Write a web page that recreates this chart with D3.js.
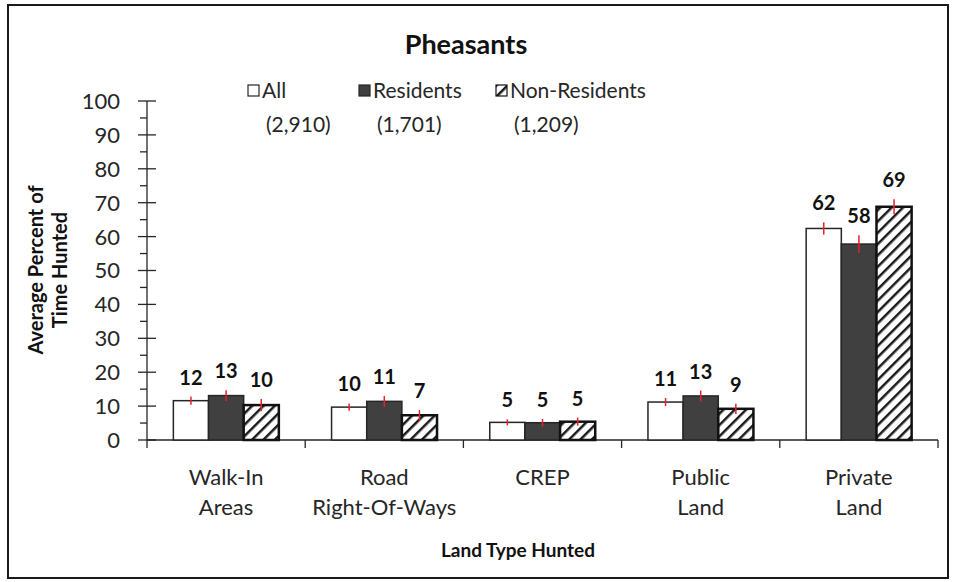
<!DOCTYPE html>
<html>
<head>
<meta charset="utf-8">
<script src="https://cdn.jsdelivr.net/npm/d3@7"></script>
<style>
  body { margin: 0; background: #fff; }
  text { font-family: Lato, "Open Sans", sans-serif; fill: #262626; }
</style>
</head>
<body>
<div id="chart"></div>
<script>
const categories = [["Walk-In", "Areas"], ["Road", "Right-Of-Ways"], ["CREP"], ["Public", "Land"], ["Private", "Land"]];
const seriesNames = ["All", "Residents", "Non-Residents"];
const seriesCounts = ["(2,910)", "(1,701)", "(1,209)"];
const allValues = [11.6, 9.7, 5.2, 11.2, 62.4];
const residentValues = [13.1, 11.4, 5.1, 13.0, 57.8];
const nonResidentValues = [10.3, 7.3, 5.4, 9.2, 68.8];
const allErr = [1.2, 1.1, 0.9, 1.2, 1.8];
const residentErr = [1.6, 1.6, 1.1, 1.6, 2.6];
const nonResidentErr = [1.8, 1.5, 1.2, 1.5, 2.2];
const yTicks = [0, 10, 20, 30, 40, 50, 60, 70, 80, 90, 100];

const W = 959, H = 582;
const svg = d3.select("#chart").append("svg").attr("width", W).attr("height", H);

// pattern for non-residents
const defs = svg.append("defs");
const pat = defs.append("pattern")
    .attr("id", "hatch")
    .attr("patternUnits", "userSpaceOnUse")
    .attr("width", 8).attr("height", 8)
    .attr("patternTransform", "rotate(45)");
pat.append("rect").attr("width", 8).attr("height", 8).attr("fill", "#fff");
pat.append("line").attr("x1", 0).attr("y1", 0).attr("x2", 0).attr("y2", 8)
    .attr("stroke", "#1a1a1a").attr("stroke-width", 5);

// outer border
svg.append("rect").attr("x", 8).attr("y", 5).attr("width", 940).attr("height", 573)
    .attr("fill", "none").attr("stroke", "#1a1a1a").attr("stroke-width", 2);

const plot = { left: 147, right: 938, top: 101, bottom: 440 };

const x0 = d3.scaleBand()
    .domain(categories.map((d, i) => i))
    .range([plot.left, plot.right])
    .paddingInner(0).paddingOuter(0);

const x1 = d3.scaleBand()
    .domain(seriesNames)
    .range([0, x0.bandwidth()])
    .paddingOuter(0.75).paddingInner(0);

const y = d3.scaleLinear().domain([0, 100]).range([plot.bottom, plot.top]);

// y axis
const yAxis = svg.append("g").attr("transform", `translate(${plot.left},0)`);
yAxis.append("line").attr("x1", 0).attr("x2", 0).attr("y1", y(0)).attr("y2", y(100))
    .attr("stroke", "#262626").attr("stroke-width", 1.3);
yAxis.selectAll(".major").data(yTicks).enter().append("line")
    .attr("x1", -9).attr("x2", 9)
    .attr("y1", d => y(d)).attr("y2", d => y(d))
    .attr("stroke", "#262626").attr("stroke-width", 1.3);
yAxis.selectAll(".minor").data(d3.range(5, 100, 10)).enter().append("line")
    .attr("x1", -7).attr("x2", 0)
    .attr("y1", d => y(d)).attr("y2", d => y(d))
    .attr("stroke", "#262626").attr("stroke-width", 1.3);
yAxis.selectAll(".lbl").data(yTicks).enter().append("text")
    .attr("x", -27).attr("y", d => y(d)).attr("dy", "0.36em")
    .attr("text-anchor", "end").style("font-size", "22px")
    .text(d => d);

// x axis
const xAxis = svg.append("g");
xAxis.append("line").attr("x1", plot.left).attr("x2", plot.right)
    .attr("y1", y(0)).attr("y2", y(0)).attr("stroke", "#262626").attr("stroke-width", 1.3);
xAxis.selectAll(".tick").data(d3.range(categories.length + 1)).enter().append("line")
    .attr("x1", d => plot.left + d * x0.step()).attr("x2", d => plot.left + d * x0.step())
    .attr("y1", y(0)).attr("y2", y(0) + 8)
    .attr("stroke", "#262626").attr("stroke-width", 1.3);
const catLbl = xAxis.selectAll(".cat").data(categories).enter().append("text")
    .attr("text-anchor", "middle").style("font-size", "22px")
    .attr("x", (d, i) => x0(i) + x0.bandwidth() / 2)
    .attr("y", 485);
catLbl.selectAll("tspan").data(d => d).enter().append("tspan")
    .attr("x", function () { return d3.select(this.parentNode).attr("x"); })
    .attr("dy", (d, i) => i === 0 ? 0 : 30)
    .text(d => d);

// bars
const series = [
    { name: "All", values: allValues, err: allErr, fill: "#fff", stroke: "#262626", sw: 1.5 },
    { name: "Residents", values: residentValues, err: residentErr, fill: "#404040", stroke: "#262626", sw: 1.5 },
    { name: "Non-Residents", values: nonResidentValues, err: nonResidentErr, fill: "url(#hatch)", stroke: "#111", sw: 2.5 }
];

series.forEach(s => {
    const g = svg.append("g");
    g.selectAll("rect").data(s.values).enter().append("rect")
        .attr("x", (d, i) => x0(i) + x1(s.name))
        .attr("y", d => y(d))
        .attr("width", x1.bandwidth())
        .attr("height", d => y(0) - y(d))
        .attr("fill", s.fill).attr("stroke", s.stroke).attr("stroke-width", s.sw);
    g.selectAll(".err").data(s.values).enter().append("line")
        .attr("x1", (d, i) => x0(i) + x1(s.name) + x1.bandwidth() / 2)
        .attr("x2", (d, i) => x0(i) + x1(s.name) + x1.bandwidth() / 2)
        .attr("y1", (d, i) => y(d - s.err[i]))
        .attr("y2", (d, i) => y(d + s.err[i]))
        .attr("stroke", "#e8212a").attr("stroke-width", 1.5);
    g.selectAll(".val").data(s.values).enter().append("text")
        .attr("x", (d, i) => x0(i) + x1(s.name) + x1.bandwidth() / 2)
        .attr("y", (d, i) => y(d + s.err[i]) - 12)
        .attr("text-anchor", "middle")
        .style("font-size", "20px").style("font-weight", "bold").style("fill", "#111")
        .text(d => Math.round(d));
});

// title
svg.append("text").attr("x", 466).attr("y", 54).attr("text-anchor", "middle")
    .style("font-size", "27px").style("font-weight", "bold").style("fill", "#111").text("Pheasants");

// legend
const legendX = [248, 359, 496];
const legend = svg.selectAll(".leg").data(series).enter().append("g")
    .attr("transform", (d, i) => `translate(${legendX[i]},84)`);
legend.append("rect").attr("x", 0).attr("y", 1).attr("width", 11).attr("height", 11)
    .attr("fill", d => d.fill).attr("stroke", d => d.stroke).attr("stroke-width", 1.2);
legend.append("text").attr("x", 14).attr("y", 14).style("font-size", "21px")
    .text(d => d.name);
legend.append("text").attr("x", 18).attr("y", 48).style("font-size", "21px")
    .text((d, i) => seriesCounts[i]);

// axis titles
svg.append("text")
    .attr("transform", "translate(43,270) rotate(-90)")
    .attr("text-anchor", "middle")
    .style("font-size", "20px").style("font-weight", "bold").style("fill", "#111")
    .text("Average Percent of");
svg.append("text")
    .attr("transform", "translate(67,270) rotate(-90)")
    .attr("text-anchor", "middle")
    .style("font-size", "20px").style("font-weight", "bold").style("fill", "#111")
    .text("Time Hunted");
svg.append("text").attr("x", 518).attr("y", 557).attr("text-anchor", "middle")
    .style("font-size", "19px").style("font-weight", "bold").style("fill", "#111")
    .text("Land Type Hunted");
</script>
</body>
</html>
